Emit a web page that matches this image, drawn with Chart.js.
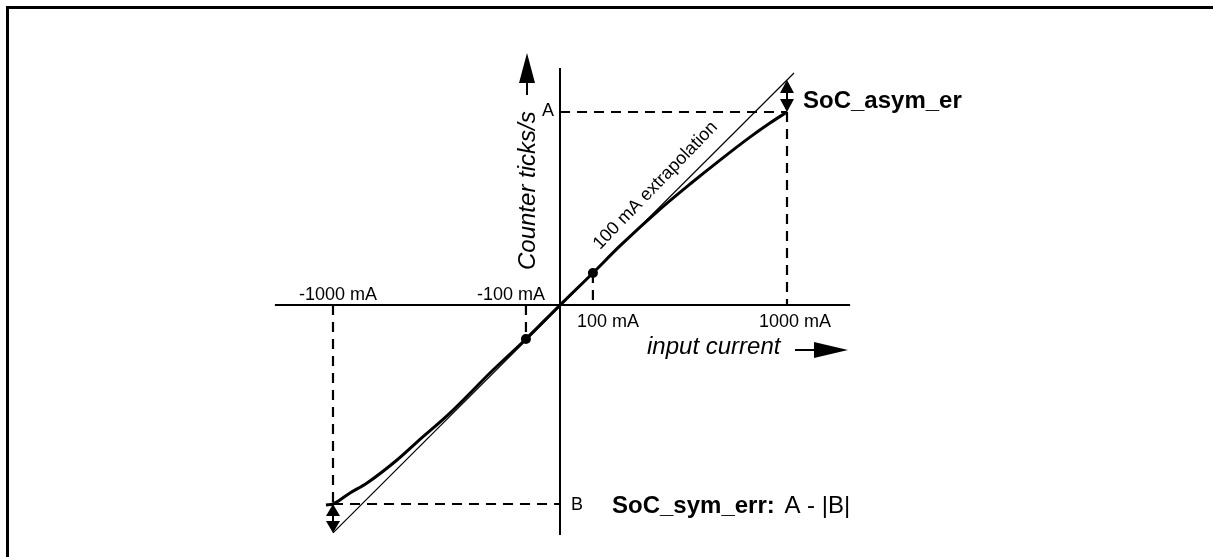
<!DOCTYPE html>
<html>
<head>
<meta charset="utf-8">
<script src="https://cdn.jsdelivr.net/npm/chart.js@4.4.1/dist/chart.umd.min.js"></script>
<style>
  body { margin: 0; background: #fff; }
  #wrap { position: relative; width: 1213px; height: 557px; }
</style>
</head>
<body>
<div id="wrap"><canvas id="socChart" width="1213" height="557"></canvas></div>
<script>
// Schematic units: x = input current position, y = counter ticks/s position
// (the sketch is not to scale, so values are positions)

// measured curve through the origin
const curveX = [-10.31, -10.0, -9.25, -8.50, -7.18, -6.30, -4.85, -2.95, -1.50, 0, 1.45, 2.64, 4.41, 5.73, 7.05, 8.37, 9.25, 10.0];
const curveY = [-10.36, -10.31, -9.74, -9.22, -8.03, -7.10, -5.60, -3.37, -1.76, 0, 1.66, 3.06, 4.97, 6.27, 7.51, 8.70, 9.43, 10.0];

// 100 mA extrapolation line
const extrapX = [-10.0, 10.31];
const extrapY = [-11.81, 12.02];

// calibration points at +/-100 mA
const calX = [-1.50, 1.45];
const calY = [-1.76, 1.66];

// tick positions on the current axis
const tickX = [-10.0, -1.50, 1.45, 10.0];
const tickLabels = ["-1000 mA", "-100 mA", "100 mA", "1000 mA"];

// levels A and B on the tick axis
const levelY = [10.0, -10.31];
const levelLabels = ["A", "B"];

// axis extents
const xAxisEnds = [-12.56, 12.78];
const yAxisEnds = [-11.92, 12.28];

const FONT = "Arial, 'Liberation Sans', Helvetica, sans-serif";

// value of the extrapolation line at x
function lineYAt(x) {
  const k = (extrapY[1] - extrapY[0]) / (extrapX[1] - extrapX[0]);
  return extrapY[0] + (x - extrapX[0]) * k;
}

// build dashed guide segments from ticks and levels
const guides = [
  [[0, levelY[0]], [tickX[3], levelY[0]]],          // A horizontal
  [[tickX[3], levelY[0]], [tickX[3], 0]],           // 1000 mA vertical
  [[tickX[2], calY[1]], [tickX[2], 0]],             // 100 mA vertical
  [[tickX[1], 0], [tickX[1], calY[0]]],             // -100 mA vertical
  [[tickX[0], 0], [tickX[0], levelY[1]]],           // -1000 mA vertical
  [[tickX[0], levelY[1]], [0, levelY[1]]]           // B horizontal
];

const toPts = (xs, ys) => xs.map((x, i) => ({ x: x, y: ys[i] }));

const datasets = [];

// axes
datasets.push({
  data: [{ x: xAxisEnds[0], y: 0 }, { x: xAxisEnds[1], y: 0 }],
  showLine: true, borderColor: "#000", borderWidth: 2, pointRadius: 0
});
datasets.push({
  data: [{ x: 0, y: yAxisEnds[0] }, { x: 0, y: yAxisEnds[1] }],
  showLine: true, borderColor: "#000", borderWidth: 2, pointRadius: 0
});

// dashed guides
guides.forEach(g => {
  datasets.push({
    data: g.map(p => ({ x: p[0], y: p[1] })),
    showLine: true, borderColor: "#000", borderWidth: 2.2,
    borderDash: [10, 7], pointRadius: 0
  });
});

// extrapolation (thin)
datasets.push({
  data: toPts(extrapX, extrapY),
  showLine: true, borderColor: "#000", borderWidth: 1.2, pointRadius: 0
});

// real curve (thick)
datasets.push({
  data: toPts(curveX, curveY),
  showLine: true, borderColor: "#000", borderWidth: 3, pointRadius: 0,
  cubicInterpolationMode: "monotone"
});

// calibration dots
datasets.push({
  data: toPts(calX, calY),
  showLine: false, pointRadius: 5, pointBackgroundColor: "#000", pointBorderWidth: 0
});

// filled arrow from (x1,y1) to tip (x2,y2)
function arrow(ctx, x1, y1, x2, y2, len, w) {
  const a = Math.atan2(y2 - y1, x2 - x1);
  const bx = x2 - len * Math.cos(a), by = y2 - len * Math.sin(a);
  ctx.beginPath();
  ctx.moveTo(x1, y1);
  ctx.lineTo(bx, by);
  ctx.lineWidth = 2;
  ctx.stroke();
  ctx.beginPath();
  ctx.moveTo(x2, y2);
  ctx.lineTo(bx + (w / 2) * Math.sin(a), by - (w / 2) * Math.cos(a));
  ctx.lineTo(bx - (w / 2) * Math.sin(a), by + (w / 2) * Math.cos(a));
  ctx.closePath();
  ctx.fill();
}

// vertical double arrow between yTop and yBot
function dblArrow(ctx, x, yTop, yBot, len, w) {
  ctx.beginPath();
  ctx.moveTo(x, yTop + len);
  ctx.lineTo(x, yBot - len);
  ctx.lineWidth = 2;
  ctx.stroke();
  ctx.beginPath();
  ctx.moveTo(x, yTop);
  ctx.lineTo(x - w / 2, yTop + len);
  ctx.lineTo(x + w / 2, yTop + len);
  ctx.closePath();
  ctx.fill();
  ctx.beginPath();
  ctx.moveTo(x, yBot);
  ctx.lineTo(x - w / 2, yBot - len);
  ctx.lineTo(x + w / 2, yBot - len);
  ctx.closePath();
  ctx.fill();
}

const schematic = {
  id: "schematic",
  afterDraw(chart) {
    const ctx = chart.ctx;
    const sx = chart.scales.x, sy = chart.scales.y;
    const px = v => sx.getPixelForValue(v);
    const py = v => sy.getPixelForValue(v);
    const ox = px(0), oy = py(0);

    ctx.save();
    ctx.fillStyle = "#000";
    ctx.strokeStyle = "#000";

    // page frame (top and left)
    ctx.lineWidth = 3;
    ctx.beginPath();
    ctx.moveTo(7.5, chart.height);
    ctx.lineTo(7.5, 7.5);
    ctx.lineTo(chart.width, 7.5);
    ctx.stroke();

    // tick labels
    ctx.font = "18px " + FONT;
    ctx.textAlign = "center";
    ctx.textBaseline = "alphabetic";
    const labelDx = [5, -15, 15, 8];
    tickX.forEach((t, i) => {
      const yb = t < 0 ? oy - 5 : oy + 22;
      ctx.fillText(tickLabels[i], px(t) + labelDx[i], yb);
    });

    // A / B
    ctx.font = "18px " + FONT;
    ctx.textBaseline = "middle";
    ctx.textAlign = "right";
    ctx.fillText(levelLabels[0], ox - 6, py(levelY[0]) - 1);
    ctx.textAlign = "left";
    ctx.fillText(levelLabels[1], ox + 11, py(levelY[1]) + 1);

    // x axis title + arrow
    ctx.font = "italic 24px " + FONT;
    ctx.textBaseline = "alphabetic";
    ctx.textAlign = "left";
    ctx.fillText("input current", ox + 87, oy + 49);
    arrow(ctx, ox + 235, oy + 45, ox + 288, oy + 45, 34, 16);

    // y axis title + arrow
    ctx.save();
    ctx.translate(ox - 25, oy - 35);
    ctx.rotate(-Math.PI / 2);
    ctx.fillText("Counter ticks/s", 0, 0);
    ctx.restore();
    arrow(ctx, ox - 33, oy - 210, ox - 33, oy - 252, 30, 16);

    // extrapolation label
    ctx.save();
    ctx.font = "18px " + FONT;
    ctx.translate(ox + 99, oy - 116);
    ctx.rotate(-46 * Math.PI / 180);
    ctx.textAlign = "center";
    ctx.fillText("100 mA extrapolation", 0, 0);
    ctx.restore();

    // error arrows
    dblArrow(ctx, px(tickX[3]), py(lineYAt(tickX[3])), py(levelY[0]), 13, 14);
    dblArrow(ctx, px(tickX[0]), py(levelY[1]), py(lineYAt(tickX[0])), 12, 14);

    // SoC_asym_err (clipped like the source)
    ctx.save();
    ctx.beginPath();
    ctx.rect(0, 0, 962, chart.height);
    ctx.clip();
    ctx.font = "bold 24px " + FONT;
    ctx.textAlign = "left";
    ctx.fillText("SoC_asym_err", px(tickX[3]) + 16, py(levelY[0]) - 4);
    ctx.restore();

    // SoC_sym_err: A - |B|
    ctx.font = "bold 24px " + FONT;
    ctx.textAlign = "left";
    const bx = ox + 52, by = py(levelY[1]) + 9;
    ctx.fillText("SoC_sym_err:", bx, by);
    const w = ctx.measureText("SoC_sym_err:").width;
    ctx.font = "24px " + FONT;
    ctx.fillText(" A - |B|", bx + w + 3, by);

    ctx.restore();
  }
};

new Chart(document.getElementById("socChart"), {
  type: "scatter",
  data: { datasets: datasets },
  options: {
    responsive: false,
    animation: false,
    devicePixelRatio: 1,
    layout: { padding: 0, autoPadding: false },
    plugins: { legend: { display: false }, tooltip: { enabled: false } },
    scales: {
      x: { type: "linear", display: false, min: -560 / 22.7, max: 653 / 22.7 },
      y: { type: "linear", display: false, min: -252 / 19.3, max: 305 / 19.3 }
    }
  },
  plugins: [schematic]
});
</script>
</body>
</html>
